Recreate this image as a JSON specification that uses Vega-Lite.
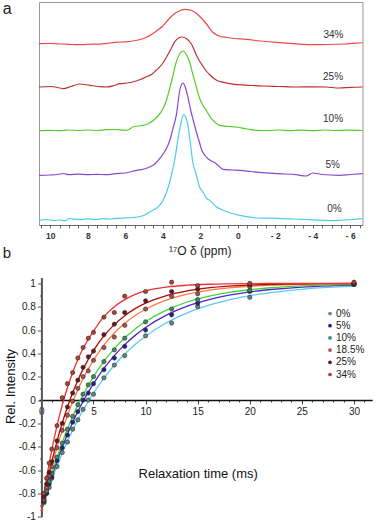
{
"$schema": "https://vega.github.io/schema/vega-lite/v6.json",
"padding": {"left": 2, "top": 0, "right": 0, "bottom": 0},
"bounds": "flush",
"spacing": 52.5,
"resolve": {"scale": {"color": "independent", "fill": "independent", "stroke": "independent"}, "legend": {"color": "independent", "fill": "independent", "stroke": "independent"}},
"config": {"font": "Liberation Sans", "view": {"stroke": null}, "axis": {"grid": false}},
"datasets": {
"spec": [
{"s":"0%","x":10.6,"y":4.7},{"s":"0%","x":10.2,"y":5.5},{"s":"0%","x":9.8,"y":4.5},{"s":"0%","x":9.5,"y":5},{"s":"0%","x":9.2,"y":4.3},{"s":"0%","x":9.0,"y":6.5},{"s":"0%","x":8.7,"y":5.8},{"s":"0%","x":8.3,"y":5.5},{"s":"0%","x":8.0,"y":6.2},{"s":"0%","x":7.6,"y":5.5},{"s":"0%","x":7.2,"y":6.3},{"s":"0%","x":6.8,"y":6},{"s":"0%","x":6.4,"y":6.7},{"s":"0%","x":6.0,"y":7},{"s":"0%","x":5.6,"y":7.5},{"s":"0%","x":5.2,"y":8.5},{"s":"0%","x":4.9,"y":10.5},{"s":"0%","x":4.7,"y":13},{"s":"0%","x":4.4,"y":16},{"s":"0%","x":4.17,"y":19.7},{"s":"0%","x":4.0,"y":24},{"s":"0%","x":3.8,"y":33},{"s":"0%","x":3.63,"y":43},{"s":"0%","x":3.46,"y":56.3},{"s":"0%","x":3.3,"y":72},{"s":"0%","x":3.19,"y":86.3},{"s":"0%","x":3.05,"y":100},{"s":"0%","x":2.89,"y":110.3},{"s":"0%","x":2.78,"y":108},{"s":"0%","x":2.66,"y":99.7},{"s":"0%","x":2.53,"y":82},{"s":"0%","x":2.4,"y":63},{"s":"0%","x":2.21,"y":50},{"s":"0%","x":2.04,"y":38},{"s":"0%","x":1.86,"y":33},{"s":"0%","x":1.68,"y":27},{"s":"0%","x":1.5,"y":24.7},{"s":"0%","x":1.2,"y":19},{"s":"0%","x":0.79,"y":14.7},{"s":"0%","x":0.3,"y":11.5},{"s":"0%","x":-0.1,"y":9.7},{"s":"0%","x":-0.99,"y":7},{"s":"0%","x":-1.8,"y":6.8},{"s":"0%","x":-2.4,"y":6.3},{"s":"0%","x":-3.0,"y":6},{"s":"0%","x":-3.6,"y":5.5},{"s":"0%","x":-4.5,"y":4.7},{"s":"0%","x":-5.0,"y":4.3},{"s":"0%","x":-5.6,"y":5},{"s":"0%","x":-6.1,"y":5.5},{"s":"0%","x":-6.65,"y":6.3},
{"s":"5%","x":10.6,"y":49.7},{"s":"5%","x":10.0,"y":50},{"s":"5%","x":9.6,"y":50.5},{"s":"5%","x":9.3,"y":51.5},{"s":"5%","x":9.0,"y":50.3},{"s":"5%","x":8.5,"y":50.8},{"s":"5%","x":8.0,"y":50.3},{"s":"5%","x":7.5,"y":50.7},{"s":"5%","x":7.0,"y":50.3},{"s":"5%","x":6.5,"y":51.3},{"s":"5%","x":6.0,"y":52},{"s":"5%","x":5.4,"y":54.7},{"s":"5%","x":5.0,"y":56},{"s":"5%","x":4.7,"y":58},{"s":"5%","x":4.4,"y":61.5},{"s":"5%","x":4.17,"y":66.3},{"s":"5%","x":3.95,"y":72},{"s":"5%","x":3.81,"y":76.3},{"s":"5%","x":3.6,"y":86},{"s":"5%","x":3.46,"y":96.3},{"s":"5%","x":3.28,"y":109.7},{"s":"5%","x":3.1,"y":134},{"s":"5%","x":2.93,"y":142},{"s":"5%","x":2.8,"y":138},{"s":"5%","x":2.65,"y":127},{"s":"5%","x":2.5,"y":114},{"s":"5%","x":2.35,"y":103},{"s":"5%","x":2.21,"y":93},{"s":"5%","x":2.05,"y":83},{"s":"5%","x":1.95,"y":76.3},{"s":"5%","x":1.75,"y":69.5},{"s":"5%","x":1.59,"y":66.3},{"s":"5%","x":1.35,"y":63.5},{"s":"5%","x":1.15,"y":61.3},{"s":"5%","x":0.79,"y":55.7},{"s":"5%","x":0.3,"y":55},{"s":"5%","x":-0.1,"y":54.7},{"s":"5%","x":-0.7,"y":53.5},{"s":"5%","x":-1.34,"y":52.3},{"s":"5%","x":-2.2,"y":51.3},{"s":"5%","x":-3.1,"y":50.3},{"s":"5%","x":-3.65,"y":49},{"s":"5%","x":-4.0,"y":52},{"s":"5%","x":-4.5,"y":50.5},{"s":"5%","x":-5.4,"y":49.7},{"s":"5%","x":-6.0,"y":50.5},{"s":"5%","x":-6.65,"y":51.3},
{"s":"10%","x":10.6,"y":94.3},{"s":"10%","x":10.0,"y":94.7},{"s":"10%","x":9.5,"y":94.3},{"s":"10%","x":9.0,"y":95},{"s":"10%","x":8.5,"y":94.5},{"s":"10%","x":8.0,"y":95},{"s":"10%","x":7.5,"y":94.5},{"s":"10%","x":7.0,"y":95.3},{"s":"10%","x":6.5,"y":95.5},{"s":"10%","x":6.0,"y":94.7},{"s":"10%","x":5.75,"y":96},{"s":"10%","x":5.6,"y":98},{"s":"10%","x":5.3,"y":99},{"s":"10%","x":5.05,"y":99.7},{"s":"10%","x":4.75,"y":101.5},{"s":"10%","x":4.5,"y":104.7},{"s":"10%","x":4.25,"y":109},{"s":"10%","x":4.0,"y":116},{"s":"10%","x":3.8,"y":125},{"s":"10%","x":3.64,"y":136},{"s":"10%","x":3.45,"y":150},{"s":"10%","x":3.28,"y":163},{"s":"10%","x":3.1,"y":171},{"s":"10%","x":2.92,"y":174},{"s":"10%","x":2.75,"y":170.5},{"s":"10%","x":2.57,"y":163},{"s":"10%","x":2.4,"y":151},{"s":"10%","x":2.21,"y":138},{"s":"10%","x":2.04,"y":127},{"s":"10%","x":1.86,"y":119.7},{"s":"10%","x":1.68,"y":114.5},{"s":"10%","x":1.41,"y":106.3},{"s":"10%","x":1.2,"y":102.5},{"s":"10%","x":0.97,"y":99.7},{"s":"10%","x":0.5,"y":98.5},{"s":"10%","x":0.08,"y":98},{"s":"10%","x":-0.5,"y":96},{"s":"10%","x":-1.0,"y":94.7},{"s":"10%","x":-1.6,"y":94.5},{"s":"10%","x":-2.2,"y":95},{"s":"10%","x":-2.8,"y":94.3},{"s":"10%","x":-3.4,"y":94.8},{"s":"10%","x":-4.0,"y":94.3},{"s":"10%","x":-4.6,"y":95},{"s":"10%","x":-5.2,"y":94.5},{"s":"10%","x":-5.8,"y":94.8},{"s":"10%","x":-6.65,"y":94.5},
{"s":"25%","x":10.6,"y":138},{"s":"25%","x":10.0,"y":138.5},{"s":"25%","x":9.6,"y":137.5},{"s":"25%","x":9.3,"y":136.3},{"s":"25%","x":8.9,"y":138.5},{"s":"25%","x":8.45,"y":141},{"s":"25%","x":7.9,"y":139.7},{"s":"25%","x":7.4,"y":138.5},{"s":"25%","x":7.0,"y":138},{"s":"25%","x":6.6,"y":139.5},{"s":"25%","x":6.3,"y":141.3},{"s":"25%","x":5.9,"y":142},{"s":"25%","x":5.6,"y":143},{"s":"25%","x":5.2,"y":145.5},{"s":"25%","x":4.9,"y":148},{"s":"25%","x":4.6,"y":150.5},{"s":"25%","x":4.35,"y":154.7},{"s":"25%","x":4.05,"y":160.5},{"s":"25%","x":3.8,"y":168},{"s":"25%","x":3.55,"y":176.5},{"s":"25%","x":3.37,"y":183},{"s":"25%","x":3.15,"y":187},{"s":"25%","x":2.96,"y":188},{"s":"25%","x":2.75,"y":186.5},{"s":"25%","x":2.48,"y":181.3},{"s":"25%","x":2.21,"y":170},{"s":"25%","x":2.04,"y":164},{"s":"25%","x":1.85,"y":158.5},{"s":"25%","x":1.68,"y":154},{"s":"25%","x":1.4,"y":148.5},{"s":"25%","x":1.15,"y":145},{"s":"25%","x":0.8,"y":142.8},{"s":"25%","x":0.44,"y":141.3},{"s":"25%","x":0.0,"y":140.3},{"s":"25%","x":-0.7,"y":139.5},{"s":"25%","x":-1.34,"y":139},{"s":"25%","x":-2.2,"y":138.5},{"s":"25%","x":-3.1,"y":138},{"s":"25%","x":-4.0,"y":138.2},{"s":"25%","x":-4.7,"y":138},{"s":"25%","x":-5.4,"y":137},{"s":"25%","x":-6.0,"y":137.7},{"s":"25%","x":-6.65,"y":138},
{"s":"34%","x":10.6,"y":181.3},{"s":"34%","x":10.0,"y":181.5},{"s":"34%","x":9.4,"y":181},{"s":"34%","x":8.8,"y":180.5},{"s":"34%","x":8.4,"y":180.3},{"s":"34%","x":7.8,"y":180.8},{"s":"34%","x":7.2,"y":181.2},{"s":"34%","x":6.8,"y":182},{"s":"34%","x":6.4,"y":182.8},{"s":"34%","x":6.0,"y":183.2},{"s":"34%","x":5.6,"y":184},{"s":"34%","x":5.2,"y":185.5},{"s":"34%","x":4.9,"y":187.5},{"s":"34%","x":4.6,"y":190.5},{"s":"34%","x":4.3,"y":194.5},{"s":"34%","x":4.0,"y":199},{"s":"34%","x":3.7,"y":205.5},{"s":"34%","x":3.4,"y":211},{"s":"34%","x":3.1,"y":214.3},{"s":"34%","x":2.8,"y":215.7},{"s":"34%","x":2.5,"y":214.8},{"s":"34%","x":2.2,"y":211.5},{"s":"34%","x":1.9,"y":206},{"s":"34%","x":1.65,"y":200.5},{"s":"34%","x":1.35,"y":193},{"s":"34%","x":1.0,"y":189},{"s":"34%","x":0.6,"y":187.5},{"s":"34%","x":0.2,"y":186.5},{"s":"34%","x":-0.45,"y":185.7},{"s":"34%","x":-1.2,"y":184},{"s":"34%","x":-2.2,"y":182.3},{"s":"34%","x":-3.0,"y":181.3},{"s":"34%","x":-4.0,"y":180.3},{"s":"34%","x":-4.8,"y":180.5},{"s":"34%","x":-5.6,"y":181},{"s":"34%","x":-6.2,"y":181.7},{"s":"34%","x":-6.65,"y":182.3}
],
"alab": [
{"s":"34%","x":-5.1,"y":190},{"s":"25%","x":-5.08,"y":148},{"s":"10%","x":-5.08,"y":106.3},{"s":"5%","x":-5.06,"y":59.7},{"s":"0%","x":-5.15,"y":16.3}
],
"fit": [
{"s":"0%","t":0,"v":-0.95},{"s":"0%","t":0.5,"v":-0.813},{"s":"0%","t":1,"v":-0.685},{"s":"0%","t":1.5,"v":-0.566},{"s":"0%","t":2,"v":-0.456},{"s":"0%","t":2.5,"v":-0.354},{"s":"0%","t":3,"v":-0.258},{"s":"0%","t":3.5,"v":-0.17},{"s":"0%","t":4,"v":-0.088},{"s":"0%","t":5,"v":0.06},{"s":"0%","t":6,"v":0.188},{"s":"0%","t":7,"v":0.298},{"s":"0%","t":8,"v":0.394},{"s":"0%","t":9,"v":0.476},{"s":"0%","t":10,"v":0.547},{"s":"0%","t":12,"v":0.662},{"s":"0%","t":14,"v":0.747},{"s":"0%","t":16,"v":0.811},{"s":"0%","t":18,"v":0.859},{"s":"0%","t":20,"v":0.895},{"s":"0%","t":22,"v":0.921},{"s":"0%","t":25,"v":0.949},{"s":"0%","t":28,"v":0.967},{"s":"0%","t":30,"v":0.976},
{"s":"5%","t":0,"v":-0.95},{"s":"5%","t":0.5,"v":-0.797},{"s":"5%","t":1,"v":-0.655},{"s":"5%","t":1.5,"v":-0.525},{"s":"5%","t":2,"v":-0.405},{"s":"5%","t":2.5,"v":-0.294},{"s":"5%","t":3,"v":-0.192},{"s":"5%","t":3.5,"v":-0.099},{"s":"5%","t":4,"v":-0.012},{"s":"5%","t":5,"v":0.141},{"s":"5%","t":6,"v":0.271},{"s":"5%","t":7,"v":0.381},{"s":"5%","t":8,"v":0.475},{"s":"5%","t":9,"v":0.554},{"s":"5%","t":10,"v":0.621},{"s":"5%","t":12,"v":0.727},{"s":"5%","t":14,"v":0.804},{"s":"5%","t":16,"v":0.858},{"s":"5%","t":18,"v":0.898},{"s":"5%","t":20,"v":0.927},{"s":"5%","t":22,"v":0.947},{"s":"5%","t":25,"v":0.968},{"s":"5%","t":28,"v":0.98},{"s":"5%","t":30,"v":0.986},
{"s":"10%","t":0,"v":-0.95},{"s":"10%","t":0.5,"v":-0.783},{"s":"10%","t":1,"v":-0.631},{"s":"10%","t":1.5,"v":-0.492},{"s":"10%","t":2,"v":-0.364},{"s":"10%","t":2.5,"v":-0.248},{"s":"10%","t":3,"v":-0.141},{"s":"10%","t":3.5,"v":-0.044},{"s":"10%","t":4,"v":0.045},{"s":"10%","t":5,"v":0.201},{"s":"10%","t":6,"v":0.332},{"s":"10%","t":7,"v":0.441},{"s":"10%","t":8,"v":0.533},{"s":"10%","t":9,"v":0.609},{"s":"10%","t":10,"v":0.673},{"s":"10%","t":12,"v":0.771},{"s":"10%","t":14,"v":0.84},{"s":"10%","t":16,"v":0.888},{"s":"10%","t":18,"v":0.922},{"s":"10%","t":20,"v":0.945},{"s":"10%","t":22,"v":0.962},{"s":"10%","t":25,"v":0.978},{"s":"10%","t":28,"v":0.987},{"s":"10%","t":30,"v":0.991},
{"s":"18.5%","t":0,"v":-0.95},{"s":"18.5%","t":0.5,"v":-0.749},{"s":"18.5%","t":1,"v":-0.569},{"s":"18.5%","t":1.5,"v":-0.408},{"s":"18.5%","t":2,"v":-0.262},{"s":"18.5%","t":2.5,"v":-0.132},{"s":"18.5%","t":3,"v":-0.016},{"s":"18.5%","t":3.5,"v":0.089},{"s":"18.5%","t":4,"v":0.183},{"s":"18.5%","t":5,"v":0.342},{"s":"18.5%","t":6,"v":0.471},{"s":"18.5%","t":7,"v":0.574},{"s":"18.5%","t":8,"v":0.657},{"s":"18.5%","t":9,"v":0.724},{"s":"18.5%","t":10,"v":0.778},{"s":"18.5%","t":12,"v":0.856},{"s":"18.5%","t":14,"v":0.907},{"s":"18.5%","t":16,"v":0.94},{"s":"18.5%","t":18,"v":0.961},{"s":"18.5%","t":20,"v":0.975},{"s":"18.5%","t":22,"v":0.984},{"s":"18.5%","t":25,"v":0.991},{"s":"18.5%","t":28,"v":0.996},{"s":"18.5%","t":30,"v":0.997},
{"s":"25%","t":0,"v":-0.95},{"s":"25%","t":0.5,"v":-0.726},{"s":"25%","t":1,"v":-0.528},{"s":"25%","t":1.5,"v":-0.352},{"s":"25%","t":2,"v":-0.197},{"s":"25%","t":2.5,"v":-0.06},{"s":"25%","t":3,"v":0.062},{"s":"25%","t":3.5,"v":0.17},{"s":"25%","t":4,"v":0.265},{"s":"25%","t":5,"v":0.424},{"s":"25%","t":6,"v":0.549},{"s":"25%","t":7,"v":0.646},{"s":"25%","t":8,"v":0.723},{"s":"25%","t":9,"v":0.783},{"s":"25%","t":10,"v":0.83},{"s":"25%","t":12,"v":0.895},{"s":"25%","t":14,"v":0.936},{"s":"25%","t":16,"v":0.961},{"s":"25%","t":18,"v":0.976},{"s":"25%","t":20,"v":0.985},{"s":"25%","t":22,"v":0.991},{"s":"25%","t":25,"v":0.996},{"s":"25%","t":28,"v":0.998},{"s":"25%","t":30,"v":0.999},
{"s":"34%","t":0,"v":-0.95},{"s":"34%","t":0.5,"v":-0.668},{"s":"34%","t":1,"v":-0.427},{"s":"34%","t":1.5,"v":-0.22},{"s":"34%","t":2,"v":-0.044},{"s":"34%","t":2.5,"v":0.107},{"s":"34%","t":3,"v":0.236},{"s":"34%","t":3.5,"v":0.347},{"s":"34%","t":4,"v":0.441},{"s":"34%","t":5,"v":0.591},{"s":"34%","t":6,"v":0.715},{"s":"34%","t":7,"v":0.8},{"s":"34%","t":8,"v":0.86},{"s":"34%","t":9,"v":0.905},{"s":"34%","t":10,"v":0.935},{"s":"34%","t":12,"v":0.968},{"s":"34%","t":14,"v":0.984},{"s":"34%","t":16,"v":0.992},{"s":"34%","t":18,"v":0.996},{"s":"34%","t":20,"v":0.998},{"s":"34%","t":22,"v":0.999},{"s":"34%","t":25,"v":1.0},{"s":"34%","t":28,"v":1.0},{"s":"34%","t":30,"v":1.0}
],
"pts": [
{"g":"0%","t":0.25,"v":-0.88},{"g":"0%","t":0.5,"v":-0.8},{"g":"0%","t":0.75,"v":-0.75},{"g":"0%","t":1,"v":-0.67},{"g":"0%","t":1.5,"v":-0.57},{"g":"0%","t":2,"v":-0.45},{"g":"0%","t":2.5,"v":-0.36},{"g":"0%","t":3,"v":-0.25},{"g":"0%","t":3.5,"v":-0.17},{"g":"0%","t":4,"v":-0.08},{"g":"0%","t":4.5,"v":0.0},{"g":"0%","t":5,"v":0.05},{"g":"0%","t":6,"v":0.19},{"g":"0%","t":7,"v":0.3},{"g":"0%","t":8,"v":0.38},{"g":"0%","t":10,"v":0.55},{"g":"0%","t":12.5,"v":0.66},{"g":"0%","t":15,"v":0.8},{"g":"0%","t":20,"v":0.88},{"g":"0%","t":30,"v":0.99},
{"g":"5%","t":0.25,"v":-0.87},{"g":"5%","t":0.5,"v":-0.8},{"g":"5%","t":0.75,"v":-0.72},{"g":"5%","t":1,"v":-0.66},{"g":"5%","t":1.5,"v":-0.52},{"g":"5%","t":2,"v":-0.41},{"g":"5%","t":2.5,"v":-0.3},{"g":"5%","t":3,"v":-0.19},{"g":"5%","t":3.5,"v":-0.1},{"g":"5%","t":4,"v":0.0},{"g":"5%","t":4.5,"v":0.06},{"g":"5%","t":5,"v":0.14},{"g":"5%","t":6,"v":0.26},{"g":"5%","t":7,"v":0.36},{"g":"5%","t":8,"v":0.46},{"g":"5%","t":10,"v":0.6},{"g":"5%","t":12.5,"v":0.73},{"g":"5%","t":15,"v":0.83},{"g":"5%","t":20,"v":0.93},{"g":"5%","t":30,"v":0.99},
{"g":"10%","t":0.25,"v":-0.86},{"g":"10%","t":0.5,"v":-0.78},{"g":"10%","t":0.75,"v":-0.7},{"g":"10%","t":1,"v":-0.63},{"g":"10%","t":1.5,"v":-0.49},{"g":"10%","t":2,"v":-0.37},{"g":"10%","t":2.5,"v":-0.25},{"g":"10%","t":3,"v":-0.14},{"g":"10%","t":3.5,"v":-0.04},{"g":"10%","t":4,"v":0.05},{"g":"10%","t":4.5,"v":0.13},{"g":"10%","t":5,"v":0.2},{"g":"10%","t":6,"v":0.33},{"g":"10%","t":7,"v":0.43},{"g":"10%","t":8,"v":0.53},{"g":"10%","t":10,"v":0.67},{"g":"10%","t":12.5,"v":0.78},{"g":"10%","t":15,"v":0.86},{"g":"10%","t":20,"v":0.94},{"g":"10%","t":30,"v":0.99},
{"g":"18.5%","t":0.25,"v":-0.85},{"g":"18.5%","t":0.5,"v":-0.75},{"g":"18.5%","t":0.75,"v":-0.65},{"g":"18.5%","t":1,"v":-0.57},{"g":"18.5%","t":1.5,"v":-0.41},{"g":"18.5%","t":2,"v":-0.26},{"g":"18.5%","t":2.5,"v":-0.13},{"g":"18.5%","t":3,"v":-0.01},{"g":"18.5%","t":3.5,"v":0.1},{"g":"18.5%","t":4,"v":0.2},{"g":"18.5%","t":4.5,"v":0.25},{"g":"18.5%","t":5,"v":0.34},{"g":"18.5%","t":6,"v":0.45},{"g":"18.5%","t":7,"v":0.54},{"g":"18.5%","t":8,"v":0.64},{"g":"18.5%","t":10,"v":0.78},{"g":"18.5%","t":12.5,"v":0.89},{"g":"18.5%","t":15,"v":0.91},{"g":"18.5%","t":20,"v":0.97},{"g":"18.5%","t":30,"v":1.0},
{"g":"25%","t":0.25,"v":-0.83},{"g":"25%","t":0.5,"v":-0.72},{"g":"25%","t":0.75,"v":-0.62},{"g":"25%","t":1,"v":-0.53},{"g":"25%","t":1.5,"v":-0.35},{"g":"25%","t":2,"v":-0.2},{"g":"25%","t":2.5,"v":-0.06},{"g":"25%","t":3,"v":0.06},{"g":"25%","t":3.5,"v":0.17},{"g":"25%","t":4,"v":0.28},{"g":"25%","t":4.5,"v":0.37},{"g":"25%","t":5,"v":0.42},{"g":"25%","t":6,"v":0.56},{"g":"25%","t":7,"v":0.65},{"g":"25%","t":8,"v":0.75},{"g":"25%","t":10,"v":0.85},{"g":"25%","t":12.5,"v":0.93},{"g":"25%","t":15,"v":0.95},{"g":"25%","t":20,"v":0.99},{"g":"25%","t":30,"v":1.0},
{"g":"34%","t":0.25,"v":-0.8},{"g":"34%","t":0.5,"v":-0.67},{"g":"34%","t":0.75,"v":-0.54},{"g":"34%","t":1,"v":-0.42},{"g":"34%","t":1.5,"v":-0.22},{"g":"34%","t":2,"v":0.02},{"g":"34%","t":2.5,"v":0.14},{"g":"34%","t":3,"v":0.235},{"g":"34%","t":3.5,"v":0.36},{"g":"34%","t":4,"v":0.45},{"g":"34%","t":4.5,"v":0.53},{"g":"34%","t":5,"v":0.58},{"g":"34%","t":6,"v":0.71},{"g":"34%","t":7,"v":0.75},{"g":"34%","t":8,"v":0.89},{"g":"34%","t":10,"v":0.93},{"g":"34%","t":12.5,"v":1.01},{"g":"34%","t":15,"v":0.98},{"g":"34%","t":20,"v":1.0},{"g":"34%","t":30,"v":1.01}
]
},
"vconcat": [
{
"width": 323.5, "height": 223,
"view": {"stroke": "#999", "strokeWidth": 1},
"title": {"text": "a", "anchor": "start", "frame": "group", "orient": "top", "offset": 0, "dx": -36.3, "dy": 15, "fontSize": 16, "fontWeight": "normal", "font": "Liberation Sans", "color": "#222"},
"layer": [
{"data": {"name": "spec"}, "mark": {"type": "line", "strokeWidth": 1.2, "interpolate": "monotone"},
"encoding": {
"x": {"field": "x", "type": "quantitative", "scale": {"domain": [10.6, -6.65], "nice": false, "zero": false},
"axis": {"values": [10.5,10,9.5,9,8.5,8,7.5,7,6.5,6,5.5,5,4.5,4,3.5,3,2.5,2,1.5,1,0.5,0,-0.5,-1,-1.5,-2,-2.5,-3,-3.5,-4,-4.5,-5,-5.5,-6,-6.5],
"tickCount": 500,
"labelExpr": "datum.value % 2 === 0 ? (datum.value < 0 ? '- ' + abs(datum.value) : '' + datum.value) : ''",
"labelOverlap": false, "labelFlush": false, "labelFontSize": 8.5, "labelFontWeight": "bold", "labelColor": "#333", "labelPadding": 3,
"tickSize": 3, "tickColor": "#666", "domainColor": "#666",
"title": "¹⁷O δ (ppm)", "titleFontSize": 12, "titleFontWeight": "normal", "titleColor": "#222", "titleX": 160.7, "titleY": 25, "titleBaseline": "middle"}},
"y": {"field": "y", "type": "quantitative", "scale": {"domain": [0, 223], "nice": false}, "axis": null},
"color": {"field": "s", "type": "nominal", "scale": {"domain": ["0%","5%","10%","25%","34%"], "range": ["#4fcbea","#8a48d0","#55cc28","#c0302e","#ee4848"]}, "legend": null}
}},
{"data": {"name": "alab"}, "mark": {"type": "text", "fontSize": 10, "font": "Liberation Sans", "color": "#333"},
"encoding": {"x": {"field": "x", "type": "quantitative"}, "y": {"field": "y", "type": "quantitative"}, "text": {"field": "s"}}}
]
},
{
"width": 333.2, "height": 239.2,
"title": {"text": "b", "anchor": "start", "frame": "group", "orient": "top", "offset": 17, "dx": -36.3, "fontSize": 15, "fontWeight": "normal", "font": "Liberation Sans", "color": "#222"},
"resolve": {"scale": {"fill": "independent", "stroke": "independent"}, "legend": {"fill": "independent", "stroke": "independent"}},
"layer": [
{"data": {"name": "fit"}, "mark": {"type": "line", "strokeWidth": 1.3, "interpolate": "monotone"},
"encoding": {
"x": {"field": "t", "type": "quantitative", "scale": {"domain": [-0.23, 31.75], "nice": false, "zero": false},
"axis": {"values": [0,1,2,3,4,5,6,7,8,9,10,11,12,13,14,15,16,17,18,19,20,21,22,23,24,25,26,27,28,29,30,31],
"tickCount": 500,
"labelExpr": "datum.value % 5 === 0 ? '' + datum.value : ''",
"labelOverlap": false, "labelFlush": false,
"tickSize": {"condition": {"test": "datum.value % 5 === 0", "value": 4}, "value": 2},
"offset": -116.7, "domainColor": "#111", "domainWidth": 1.5, "tickColor": "#444",
"labelFontSize": 10, "labelColor": "#222", "labelPadding": 2,
"title": "Relaxation time (ms)", "titleFontSize": 13, "titleFontWeight": "normal", "titleColor": "#111", "titleX": 158.7, "titleY": 73, "titleBaseline": "middle"}},
"y": {"field": "v", "type": "quantitative", "scale": {"domain": [-1, 1.05], "nice": false, "zero": false},
"axis": {"values": [-1,-0.9,-0.8,-0.7,-0.6,-0.5,-0.4,-0.3,-0.2,-0.1,0,0.1,0.2,0.3,0.4,0.5,0.6,0.7,0.8,0.9,1],
"tickCount": 500,
"labelExpr": "abs(round(datum.value*10)) % 2 === 0 ? ((datum.value < 0 ? '-' : '') + format(abs(datum.value), '~g')) : ''",
"labelOverlap": false, "labelFlush": false,
"tickSize": {"condition": {"test": "abs(round(datum.value*10)) % 2 === 0", "value": 4}, "value": 2},
"offset": -2.4, "domainColor": "#555", "domainWidth": 2, "tickColor": "#555",
"labelFontSize": 10, "labelColor": "#222", "labelPadding": 2,
"title": "Rel. Intensity", "titleFontSize": 13, "titleFontWeight": "normal", "titleColor": "#111", "titleX": -31.2, "titleY": 108.5, "titleBaseline": "middle"}},
"stroke": {"field": "s", "type": "nominal", "scale": {"domain": ["0%","5%","10%","18.5%","25%","34%"], "range": ["#5ccbea","#5026c8","#44d43a","#ff7a40","#a80c0c","#f03030"]}, "legend": null}
}},
{"data": {"name": "pts"}, "mark": {"type": "circle", "size": 18, "stroke": "#222", "strokeWidth": 0.6, "opacity": 1},
"encoding": {
"x": {"field": "t", "type": "quantitative"},
"y": {"field": "v", "type": "quantitative"},
"fill": {"field": "g", "type": "nominal", "scale": {"domain": ["0%","5%","10%","18.5%","25%","34%"], "range": ["#5e8a8c","#24248a","#3c9068","#b05050","#6e1616","#b8402e"]},
"legend": {"title": null, "orient": "none", "legendX": 286, "legendY": 31, "symbolType": "circle", "symbolSize": 14, "symbolStrokeWidth": 0, "labelFontSize": 10, "labelColor": "#222", "labelOffset": 1, "rowPadding": 2.2, "padding": 0}}
}}
]
}
]
}
